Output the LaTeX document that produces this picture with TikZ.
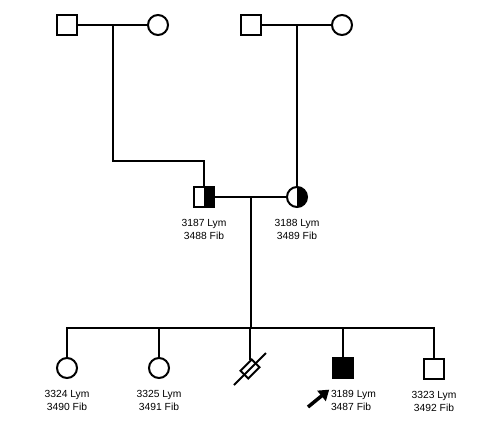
\documentclass[tikz,border=0pt]{standalone}
\usepackage{fontspec}
\setmainfont{Liberation Sans}
\usepackage{tikz}
\usetikzlibrary{positioning,arrows.meta}

\begin{document}
\begin{tikzpicture}[
        x=1pt,y=-1pt,
        line width=2pt,
        male/.style={
          draw,
          rectangle,
          minimum size=20pt,
          inner sep=0pt
          },
        female/.style={
          draw,
          circle,
          minimum size=20pt,
          inner sep=0pt
          },
        halffill/.style={
          path picture={
            \fill (path picture bounding box.north) rectangle (path picture bounding box.south east);
            }
          },
        affected/.style={
          fill=black
          },
        unknown/.style={
          draw,
          rectangle,
          rotate=45,
          minimum width=16pt,
          minimum height=11pt,
          inner sep=0pt
          },
        tag/.style={
          align=center,
          inner sep=0pt,
          font=\fontsize{10.3}{13.5}\selectfont
          },
        >=latex
        ]
        \useasboundingbox (0,0) rectangle (480,426);
        \node[male] (gf1) at (67,25) {};
        \node[female] (gm1) at (158,25) {};
        \node[male] (gf2) at (251,25) {};
        \node[female] (gm2) at (342,25) {};
        \node[male,halffill] (father) at (204,197) {};
        \node[female,halffill] (mother) at (297,197) {};
        \node[tag,below=10pt of father] (father-t) {3187 Lym\\3488 Fib};
        \node[tag,below=10pt of mother] (mother-t) {3188 Lym\\3489 Fib};
        \coordinate (m1) at (113,25);
        \coordinate (k1) at (113,161);
        \coordinate (m2) at (297,25);
        \coordinate (m3) at (251,197);
        \coordinate (sib) at (251,328);
        \draw (gf1) -- (gm1);
        \draw (gf2) -- (gm2);
        \draw (m1) -- (k1) -| (father);
        \draw (m2) -- (mother);
        \draw (father) -- (mother);
        \draw (m3) -- (sib);
        \node[female] (c1) at (67,368) {};
        \node[female] (c2) at (159,368) {};
        \node[unknown] (c3) at (250,369) {};
        \node[male,affected] (c4) at (343,368) {};
        \node[male] (c5) at (434,369) {};
        \foreach \c in {1,...,5}
          \draw (sib) -| (c\c);
        \draw (c3.center) +(-16,16) -- +(16,-16);
        \node[tag,below=10pt of c1] (c1-t) {3324 Lym\\3490 Fib};
        \node[tag,below=10pt of c2] (c2-t) {3325 Lym\\3491 Fib};
        \node[tag,align=left,anchor=north west] (c4-t) at (330,389) {3189 Lym\\3487 Fib};
        \node[tag,below=10pt of c5] (c5-t) {3323 Lym\\3492 Fib};
        \coordinate (pb) at (308,407);
        \draw[line width=3.5pt,-{Triangle[length=10pt,width=13pt]},shorten >=1pt] (pb) -- (c4-t.north west);
\end{tikzpicture}
\end{document}
